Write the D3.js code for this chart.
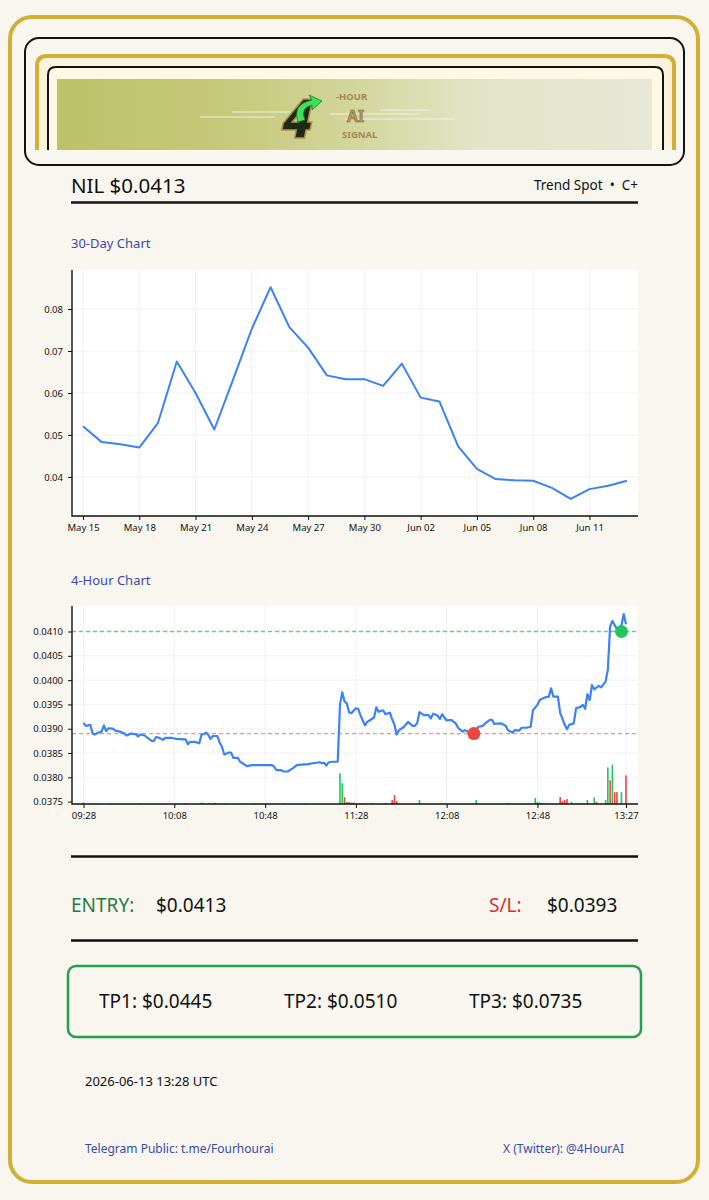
<!DOCTYPE html>
<html>
<head>
<meta charset="utf-8">
<script src="https://cdn.jsdelivr.net/npm/d3@7"></script>
<style>
  body { margin: 0; background: #f9f6ef; }
  svg { display: block; font-family: "Noto Sans", sans-serif; }
</style>
</head>
<body>
<svg id="card" width="709" height="1200"></svg>
<script>
// ---- 30 day data ----
var dayDates = ["2026-05-15","2026-05-16","2026-05-17","2026-05-18","2026-05-19","2026-05-20",
  "2026-05-21","2026-05-22","2026-05-23","2026-05-24","2026-05-25","2026-05-26","2026-05-27",
  "2026-05-28","2026-05-29","2026-05-30","2026-05-31","2026-06-01","2026-06-02","2026-06-03",
  "2026-06-04","2026-06-05","2026-06-06","2026-06-07","2026-06-08","2026-06-09","2026-06-10",
  "2026-06-11","2026-06-12","2026-06-13"];
var dayPrice = [0.0521,0.0483,0.0478,0.0470,0.0529,0.0675,0.0600,0.0513,0.0632,0.0753,
  0.0852,0.0757,0.0708,0.0642,0.0633,0.0633,0.0617,0.0670,0.0589,0.0580,
  0.0473,0.0419,0.0395,0.0392,0.0391,0.0374,0.0348,0.0371,0.0379,0.0391];
var dayTicks = ["May 15","May 18","May 21","May 24","May 27","May 30","Jun 02","Jun 05","Jun 08","Jun 11"];
var dayPriceTicks = [0.04, 0.05, 0.06, 0.07, 0.08];

// ---- 4 hour data (minutes after 09:28) ----
var hourMinutes = [0,1,3,4,5,7,8,9,10,11,13,14,16,18,19,21,23,24,25,27,28,30,31,32,33,35,36,39,41,44,
  45,46,47,49,51,52,53,54,55,56,57,59,60,61,62,64,65,66,68,69,70,72,74,78,80,83,84,85,87,88,
  90,92,94,96,99,101,104,105,106,107,108,110,112,113,114,115,116,117,118,120,121,122,124,125,126,128,129,130,132,133,
  135,136,137,138,139,141,143,145,146,147,148,150,152,153,154,156,157,158,159,160,162,164,165,167,168,170,172,174,176,177,
  179,180,181,184,186,187,189,190,192,193,195,197,198,200,201,203,205,206,207,209,210,211,212,213,214,216,217,219,220,221,
  222,223,224,225,227,228,230,231,232,233,234,236,237,238,239];
var hourPrice = [0.03912,0.03906,0.03908,0.03890,0.03888,0.03893,0.03894,0.03907,0.03895,0.03901,0.03900,0.03896,0.03894,0.03890,0.03886,0.03890,0.03889,0.03884,0.03888,0.03886,
  0.03882,0.03875,0.03875,0.03883,0.03882,0.03877,0.03881,0.03881,0.03879,0.03878,0.03878,0.03868,0.03873,0.03873,0.03870,0.03888,0.03889,0.03892,0.03887,0.03879,
  0.03885,0.03885,0.03871,0.03863,0.03847,0.03851,0.03851,0.03840,0.03840,0.03832,0.03829,0.03823,0.03825,0.03825,0.03825,0.03825,0.03822,0.03815,0.03815,0.03812,
  0.03812,0.03818,0.03825,0.03826,0.03827,0.03829,0.03831,0.03829,0.03830,0.03824,0.03831,0.03832,0.03832,0.03950,0.03975,0.03956,0.03952,0.03934,0.03932,0.03942,
  0.03941,0.03928,0.03907,0.03914,0.03917,0.03923,0.03944,0.03935,0.03938,0.03930,0.03933,0.03919,0.03908,0.03888,0.03897,0.03903,0.03914,0.03906,0.03906,0.03911,
  0.03934,0.03928,0.03928,0.03921,0.03931,0.03927,0.03920,0.03930,0.03923,0.03917,0.03918,0.03911,0.03902,0.03894,0.03897,0.03893,0.03892,0.03904,0.03906,0.03911,
  0.03918,0.03918,0.03910,0.03911,0.03906,0.03897,0.03892,0.03897,0.03896,0.03902,0.03902,0.03904,0.03938,0.03949,0.03959,0.03964,0.03966,0.03983,0.03966,0.03966,
  0.03932,0.03921,0.03908,0.03899,0.03908,0.03911,0.03942,0.03945,0.03949,0.03941,0.03971,0.03959,0.03990,0.03981,0.03988,0.03985,0.03997,0.04021,0.04110,0.04122,
  0.04113,0.04098,0.04113,0.04136,0.04115];
var hourTicks = ["09:28","10:08","10:48","11:28","12:08","12:48","13:27"];
var hourPriceTicks = [0.0375,0.0380,0.0385,0.0390,0.0395,0.0400,0.0405,0.0410];

var volMinutes = [0,6,12,25,45,52,53,55,58,62,69,75,88,98,113,114,115,116,117,118,119,122,127,133,136,137,138,148,173,187,
  199,200,201,202,204,210,211,212,213,215,217,219,222,225,226,230,231,232,233,234,235,237,239];
var volAmount = [1.5,0.5,0.5,0.5,0.8,1.5,1,1,1.2,0.8,0.5,0.7,0.5,0.5,31,21,7,2,2,1.5,1.5,1,1,1,4,9,3,4,4,1,
  6,2,1.5,1,1,7,3,4,5,2,1,1,4,6.5,2,4,37,24,40,12,12,12,29];
var volUp = [1,0,0,0,0,1,1,0,0,0,0,1,0,0,1,1,0,1,0,1,0,0,0,0,0,0,0,1,1,0,
  1,1,1,1,1,0,0,0,0,1,1,1,1,1,0,1,1,0,1,0,0,1,0];

var takeProfitLevel = 0.0410, stopLevel = 0.0389;
var entryMarker = { minute: 237, price: 0.0410 };
var stopMarker = { minute: 172, price: 0.0389 };

var svg = d3.select("#card");
var ink = "#111", gold = "#d4af37", blue = "#3b82f6", linkBlue = "#3949a8";

svg.append("rect").attr("width", 709).attr("height", 1200).attr("fill", "#f9f6ef");
svg.append("rect").attr("x", 10).attr("y", 17).attr("width", 688).attr("height", 1165)
  .attr("rx", 22).attr("fill", "#f9f6ef").attr("stroke", gold).attr("stroke-width", 4);

// ---- header banner ----
var defs = svg.append("defs");
var grad = defs.append("linearGradient").attr("id", "bannerGrad");
[["0%", "#bcc268"], ["30%", "#c6ca7c"], ["50%", "#d2d69c"], ["70%", "#e3e4c6"], ["100%", "#e9e7d6"]]
  .forEach(function(s) { grad.append("stop").attr("offset", s[0]).attr("stop-color", s[1]); });

svg.append("rect").attr("x", 25).attr("y", 38).attr("width", 659).attr("height", 127)
  .attr("rx", 14).attr("fill", "#f9f6ef").attr("stroke", ink).attr("stroke-width", 2);

function openBox(x0, x1, top, bottom, r) {
  return "M" + x0 + "," + bottom + " V" + (top + r) + " Q" + x0 + "," + top + " " + (x0 + r) + "," + top +
    " H" + (x1 - r) + " Q" + x1 + "," + top + " " + x1 + "," + (top + r) + " V" + bottom;
}
svg.append("path").attr("d", openBox(37, 674, 56, 150, 10)).attr("fill", "#fbf3dc")
  .attr("stroke", gold).attr("stroke-width", 4);
svg.append("path").attr("d", openBox(48, 663, 67, 150, 8)).attr("fill", "#fff8e4")
  .attr("stroke", ink).attr("stroke-width", 2);
svg.append("rect").attr("x", 57).attr("y", 79).attr("width", 595).attr("height", 71)
  .attr("fill", "url(#bannerGrad)");

// logo
var logo = svg.append("g");
[[200, 117, 275, 117], [232, 112, 290, 112], [330, 114, 420, 114], [345, 119, 455, 119], [380, 110, 430, 110]]
  .forEach(function(l) {
    logo.append("line").attr("x1", l[0]).attr("y1", l[1]).attr("x2", l[2]).attr("y2", l[3])
      .attr("stroke", "#f4f4e8").attr("stroke-width", 1.2).attr("opacity", 0.9);
  });
logo.append("text").attr("x", 282).attr("y", 138).attr("font-size", 54).attr("font-weight", 900)
  .attr("font-style", "italic").attr("fill", "#1d2a18").attr("stroke", "#b8904a").attr("stroke-width", 1.5)
  .text("4");
logo.append("path").attr("d", "M298,122 Q292,104 312,100 L309,95 L322,101 L312,110 L312,105 Q300,108 305,120 Z")
  .attr("fill", "#3ee05a").attr("stroke", "#1a7a2a").attr("stroke-width", 0.8);
logo.append("text").attr("x", 336).attr("y", 100).attr("font-size", 9.5).attr("font-weight", 700)
  .attr("fill", "#a98650").text("-HOUR");
logo.append("text").attr("x", 347).attr("y", 122).attr("font-size", 16).attr("font-weight", 700)
  .attr("fill", "#b8955a").attr("stroke", "#7a5e30").attr("stroke-width", 0.5).text("AI");
logo.append("text").attr("x", 342).attr("y", 138).attr("font-size", 9.5).attr("font-weight", 700)
  .attr("fill", "#a98650").text("SIGNAL");

// ---- title row ----
svg.append("text").attr("x", 71).attr("y", 193).attr("font-size", 20.5).attr("fill", ink).text("NIL $0.0413");
svg.append("text").attr("x", 638).attr("y", 190).attr("font-size", 13.5).attr("text-anchor", "end")
  .attr("fill", ink).attr("xml:space", "preserve").text("Trend Spot  \u2022  C+");
svg.append("line").attr("x1", 71).attr("x2", 638).attr("y1", 202.5).attr("y2", 202.5)
  .attr("stroke", ink).attr("stroke-width", 2.5);

function sectionTitle(y, txt) {
  svg.append("text").attr("x", 71).attr("y", y).attr("font-size", 13).attr("fill", linkBlue).text(txt);
}

// common axis styling
function styleAxis(g) {
  g.selectAll(".domain").remove();
  g.selectAll(".tick line").attr("stroke", ink).attr("stroke-width", 1);
  g.selectAll(".tick text").attr("fill", ink).attr("font-size", 9.5)
    .attr("font-family", "'Noto Sans', sans-serif");
}

// ---- 30-day chart ----
sectionTitle(248, "30-Day Chart");
var p1 = { left: 72, right: 638, top: 270, bottom: 516 };
var parseDay = d3.timeParse("%Y-%m-%d");
var x1 = d3.scaleTime()
  .domain([parseDay(dayDates[0]), parseDay(dayDates[dayDates.length - 1])])
  .range([83, 627]);
var y1 = d3.scaleLinear().domain([0.0307, 0.0893]).range([p1.bottom, p1.top]);
var dayTickDates = dayTicks.map(function(t) { return d3.timeParse("%b %d %Y")(t + " 2026"); });

svg.append("rect").attr("x", p1.left).attr("y", p1.top).attr("width", p1.right - p1.left)
  .attr("height", p1.bottom - p1.top).attr("fill", "#fff");
var grid1 = svg.append("g").attr("stroke", "#efefef").attr("stroke-width", 0.8);
dayTickDates.forEach(function(d) {
  grid1.append("line").attr("x1", x1(d)).attr("x2", x1(d)).attr("y1", p1.top).attr("y2", p1.bottom);
});
dayPriceTicks.forEach(function(v) {
  grid1.append("line").attr("x1", p1.left).attr("x2", p1.right).attr("y1", y1(v)).attr("y2", y1(v));
});

svg.append("path")
  .datum(dayPrice)
  .attr("fill", "none").attr("stroke", blue).attr("stroke-width", 2).attr("stroke-linejoin", "round")
  .attr("d", d3.line()
    .x(function(d, i) { return x1(parseDay(dayDates[i])); })
    .y(function(d) { return y1(d); }));

svg.append("g").attr("transform", "translate(0," + p1.bottom + ")")
  .call(d3.axisBottom(x1).tickValues(dayTickDates).tickFormat(d3.timeFormat("%b %d")).tickSize(4).tickPadding(4))
  .call(styleAxis);
svg.append("g").attr("transform", "translate(" + p1.left + ",0)")
  .call(d3.axisLeft(y1).tickValues(dayPriceTicks).tickFormat(d3.format(".2f")).tickSize(4).tickPadding(5))
  .call(styleAxis);
svg.append("path").attr("d", "M" + p1.left + "," + p1.top + " V" + p1.bottom + " H" + p1.right)
  .attr("fill", "none").attr("stroke", ink).attr("stroke-width", 1.4);

// ---- 4-hour chart ----
sectionTitle(585, "4-Hour Chart");
var p2 = { left: 72, right: 638, top: 606, bottom: 804 };
var start = d3.timeParse("%Y-%m-%d %H:%M")("2026-06-13 09:28");
function atMinute(m) { return new Date(start.getTime() + m * 60000); }
var x2 = d3.scaleTime().domain([atMinute(0), atMinute(239)]).range([83.5, 626]);
var y2 = d3.scaleLinear().domain([0.037451, 0.041525]).range([p2.bottom, p2.top]);
var hourTickDates = hourTicks.map(function(t) { return d3.timeParse("%Y-%m-%d %H:%M")("2026-06-13 " + t); });
var vScale = d3.scaleLinear().domain([0, d3.max(volAmount) * 5]).range([0, p2.bottom - p2.top]);

svg.append("rect").attr("x", p2.left).attr("y", p2.top).attr("width", p2.right - p2.left)
  .attr("height", p2.bottom - p2.top).attr("fill", "#fff");
var grid2 = svg.append("g").attr("stroke", "#efefef").attr("stroke-width", 0.8);
hourTickDates.forEach(function(d) {
  grid2.append("line").attr("x1", x2(d)).attr("x2", x2(d)).attr("y1", p2.top).attr("y2", p2.bottom);
});
hourPriceTicks.forEach(function(v) {
  grid2.append("line").attr("x1", p2.left).attr("x2", p2.right).attr("y1", y2(v)).attr("y2", y2(v));
});

svg.append("g").selectAll("rect")
  .data(volMinutes)
  .join("rect")
  .attr("x", function(m) { return x2(atMinute(m)) - 0.8; })
  .attr("width", 1.6)
  .attr("y", function(m, i) { return p2.bottom - vScale(volAmount[i]); })
  .attr("height", function(m, i) { return vScale(volAmount[i]); })
  .attr("fill", function(m, i) { return volUp[i] ? "#22c55e" : "#ef4444"; });

// target and stop levels
svg.append("line").attr("x1", p2.left).attr("x2", p2.right)
  .attr("y1", y2(takeProfitLevel)).attr("y2", y2(takeProfitLevel))
  .attr("stroke", "#2fc36a").attr("stroke-opacity", 0.75).attr("stroke-width", 1.3).attr("stroke-dasharray", "4,3");
svg.append("line").attr("x1", p2.left).attr("x2", p2.right)
  .attr("y1", y2(stopLevel)).attr("y2", y2(stopLevel))
  .attr("stroke", "#ef5f5f").attr("stroke-opacity", 0.7).attr("stroke-width", 1.3).attr("stroke-dasharray", "4,3");

svg.append("path")
  .datum(hourPrice)
  .attr("fill", "none").attr("stroke", blue).attr("stroke-width", 2.2).attr("stroke-linejoin", "round")
  .attr("d", d3.line()
    .x(function(d, i) { return x2(atMinute(hourMinutes[i])); })
    .y(function(d) { return y2(d); }));

svg.append("circle").attr("cx", x2(atMinute(stopMarker.minute))).attr("cy", y2(stopMarker.price))
  .attr("r", 6.5).attr("fill", "#ef4444");
svg.append("circle").attr("cx", x2(atMinute(entryMarker.minute))).attr("cy", y2(entryMarker.price))
  .attr("r", 6.5).attr("fill", "#22c55e");

svg.append("g").attr("transform", "translate(0," + p2.bottom + ")")
  .call(d3.axisBottom(x2).tickValues(hourTickDates).tickFormat(d3.timeFormat("%H:%M")).tickSize(4).tickPadding(4))
  .call(styleAxis);
svg.append("g").attr("transform", "translate(" + p2.left + ",0)")
  .call(d3.axisLeft(y2).tickValues(hourPriceTicks).tickFormat(d3.format(".4f")).tickSize(4).tickPadding(5))
  .call(styleAxis);
svg.append("path").attr("d", "M" + p2.left + "," + p2.top + " V" + p2.bottom + " H" + p2.right)
  .attr("fill", "none").attr("stroke", ink).attr("stroke-width", 1.4);

// ---- levels ----
svg.append("line").attr("x1", 71).attr("x2", 638).attr("y1", 856.5).attr("y2", 856.5)
  .attr("stroke", ink).attr("stroke-width", 2.5);
svg.append("text").attr("x", 71).attr("y", 912).attr("font-size", 19).attr("fill", "#1e7e3e").text("ENTRY:");
svg.append("text").attr("x", 156).attr("y", 912).attr("font-size", 19).attr("fill", ink).text("$0.0413");
svg.append("text").attr("x", 489).attr("y", 912).attr("font-size", 19).attr("fill", "#d32f2f").text("S/L:");
svg.append("text").attr("x", 547).attr("y", 912).attr("font-size", 19).attr("fill", ink).text("$0.0393");
svg.append("line").attr("x1", 71).attr("x2", 638).attr("y1", 940.5).attr("y2", 940.5)
  .attr("stroke", ink).attr("stroke-width", 2.5);

svg.append("rect").attr("x", 68).attr("y", 966).attr("width", 573).attr("height", 71).attr("rx", 8)
  .attr("fill", "none").attr("stroke", "#22a04b").attr("stroke-width", 2.5);
[["TP1: $0.0445", 99], ["TP2: $0.0510", 284], ["TP3: $0.0735", 469]].forEach(function(t) {
  svg.append("text").attr("x", t[1]).attr("y", 1008).attr("font-size", 19).attr("fill", ink).text(t[0]);
});

svg.append("text").attr("x", 85).attr("y", 1086).attr("font-size", 13).attr("fill", ink).text("2026-06-13 13:28 UTC");
svg.append("text").attr("x", 85).attr("y", 1153).attr("font-size", 12).attr("fill", linkBlue)
  .text("Telegram Public: t.me/Fourhourai");
svg.append("text").attr("x", 624).attr("y", 1153).attr("font-size", 12).attr("fill", linkBlue)
  .attr("text-anchor", "end").text("X (Twitter): @4HourAI");
</script>
</body>
</html>
